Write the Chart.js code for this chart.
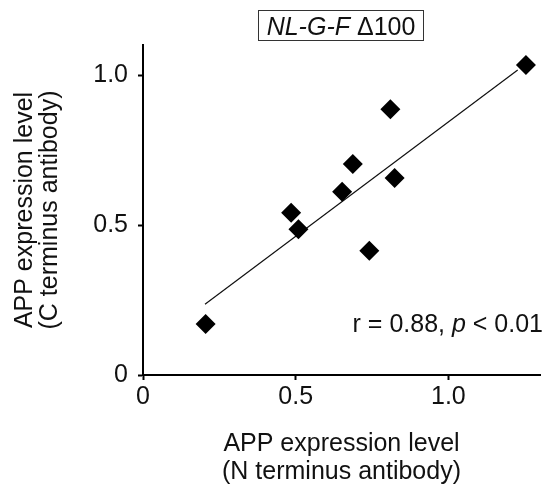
<!DOCTYPE html>
<html>
<head>
<meta charset="utf-8">
<script src="https://cdn.jsdelivr.net/npm/chart.js@4"></script>
<style>
  html, body { margin: 0; padding: 0; background: #fff; }
  #wrap { width: 550px; height: 487px; }
</style>
</head>
<body>
<div id="wrap"><canvas id="corr"></canvas></div>
<script>
// values
var nTerm = [0.205, 0.485, 0.509, 0.652, 0.687, 0.741, 0.810, 0.824, 1.254];
var cTerm = [0.170, 0.541, 0.486, 0.611, 0.703, 0.414, 0.886, 0.657, 1.033];
var fitX = [0.203, 1.227];
var fitY = [0.236, 1.017];
var tickVals = [0, 0.5, 1.0];
var tickLabels = ['0', '0.5', '1.0'];

var FONT = '"Liberation Sans", Arial, sans-serif';
var FS = 25;

var points = nTerm.map(function (x, i) { return { x: x, y: cTerm[i] }; });
var fit = fitX.map(function (x, i) { return { x: x, y: fitY[i] }; });

function fixTicks(scale) {
    scale.ticks = tickVals.map(function (v) { return { value: v }; });
}
function fmt(value) {
    var i = tickVals.indexOf(value);
    return i >= 0 ? tickLabels[i] : '';
}

// title box and r/p annotation, mixed italic and upright text
var labels = {
    id: 'labels',
    afterDraw: function (chart) {
        var ctx = chart.ctx;
        ctx.save();
        ctx.fillStyle = '#111';
        ctx.textBaseline = 'alphabetic';
        ctx.textAlign = 'left';

        var it = 'italic ' + FS + 'px ' + FONT, up = FS + 'px ' + FONT;
        ctx.font = it;
        var w1 = ctx.measureText('NL-G-F').width;
        ctx.font = up;
        var w2 = ctx.measureText(' \u0394100').width;
        var x0 = 341 - (w1 + w2) / 2;
        ctx.font = it;
        ctx.fillText('NL-G-F', x0, 35);
        ctx.font = up;
        ctx.fillText(' \u0394100', x0 + w1, 35);
        ctx.strokeStyle = '#333';
        ctx.lineWidth = 1;
        ctx.strokeRect(258.5, 10.5, 165, 30);

        var a = 'r = 0.88, ', b = 'p', c = ' < 0.01';
        ctx.font = up;
        var wa = ctx.measureText(a).width, wc = ctx.measureText(c).width;
        ctx.font = it;
        var wb = ctx.measureText(b).width;
        var xs = 543 - (wa + wb + wc);
        ctx.font = up;
        ctx.fillText(a, xs, 332);
        ctx.font = it;
        ctx.fillText(b, xs + wa, 332);
        ctx.font = up;
        ctx.fillText(c, xs + wa + wb, 332);
        ctx.restore();
    }
};

var ctx = document.getElementById('corr').getContext('2d');
var chart = new Chart(ctx, {
    type: 'scatter',
    data: {
        datasets: [{
            data: points,
            pointStyle: 'rectRot',
            pointRadius: 10,
            backgroundColor: '#000',
            borderWidth: 0,
            clip: false
        }, {
            type: 'line',
            data: fit,
            borderColor: '#111',
            borderWidth: 1.2,
            pointRadius: 0,
            fill: false
        }]
    },
    options: {
        responsive: true,
        maintainAspectRatio: false,
        animation: false,
        layout: { padding: { top: 45, right: 4, left: 0, bottom: 0 } },
        plugins: {
            legend: { display: false },
            tooltip: { enabled: false }
        },
        scales: {
            x: {
                type: 'linear',
                min: 0,
                max: 1.3,
                afterBuildTicks: fixTicks,
                afterFit: function (s) { s.height = 112; },
                border: { display: true, color: '#000', width: 2 },
                grid: { drawOnChartArea: false, drawTicks: true, tickLength: 5, tickWidth: 2, color: '#000' },
                ticks: { callback: fmt, color: '#111', padding: 2, maxRotation: 0, font: { family: FONT, size: FS } },
                title: {
                    display: true,
                    text: ['APP expression level', '(N terminus antibody)'],
                    color: '#111',
                    padding: { top: 0, bottom: 1 },
                    font: { family: FONT, size: FS, lineHeight: 1.12 }
                }
            },
            y: {
                type: 'linear',
                min: 0,
                max: 1.1,
                afterBuildTicks: fixTicks,
                afterFit: function (s) { s.width = 143; },
                border: { display: true, color: '#000', width: 2 },
                grid: { drawOnChartArea: false, drawTicks: true, tickLength: 5, tickWidth: 2, color: '#000' },
                ticks: { callback: fmt, color: '#111', padding: 10, font: { family: FONT, size: FS } },
                title: {
                    display: true,
                    text: ['APP expression level', '(C terminus antibody)'],
                    color: '#111',
                    padding: { top: 13, bottom: 0 },
                    font: { family: FONT, size: FS, lineHeight: 1.0 }
                }
            }
        }
    },
    plugins: [labels]
});
</script>
</body>
</html>
